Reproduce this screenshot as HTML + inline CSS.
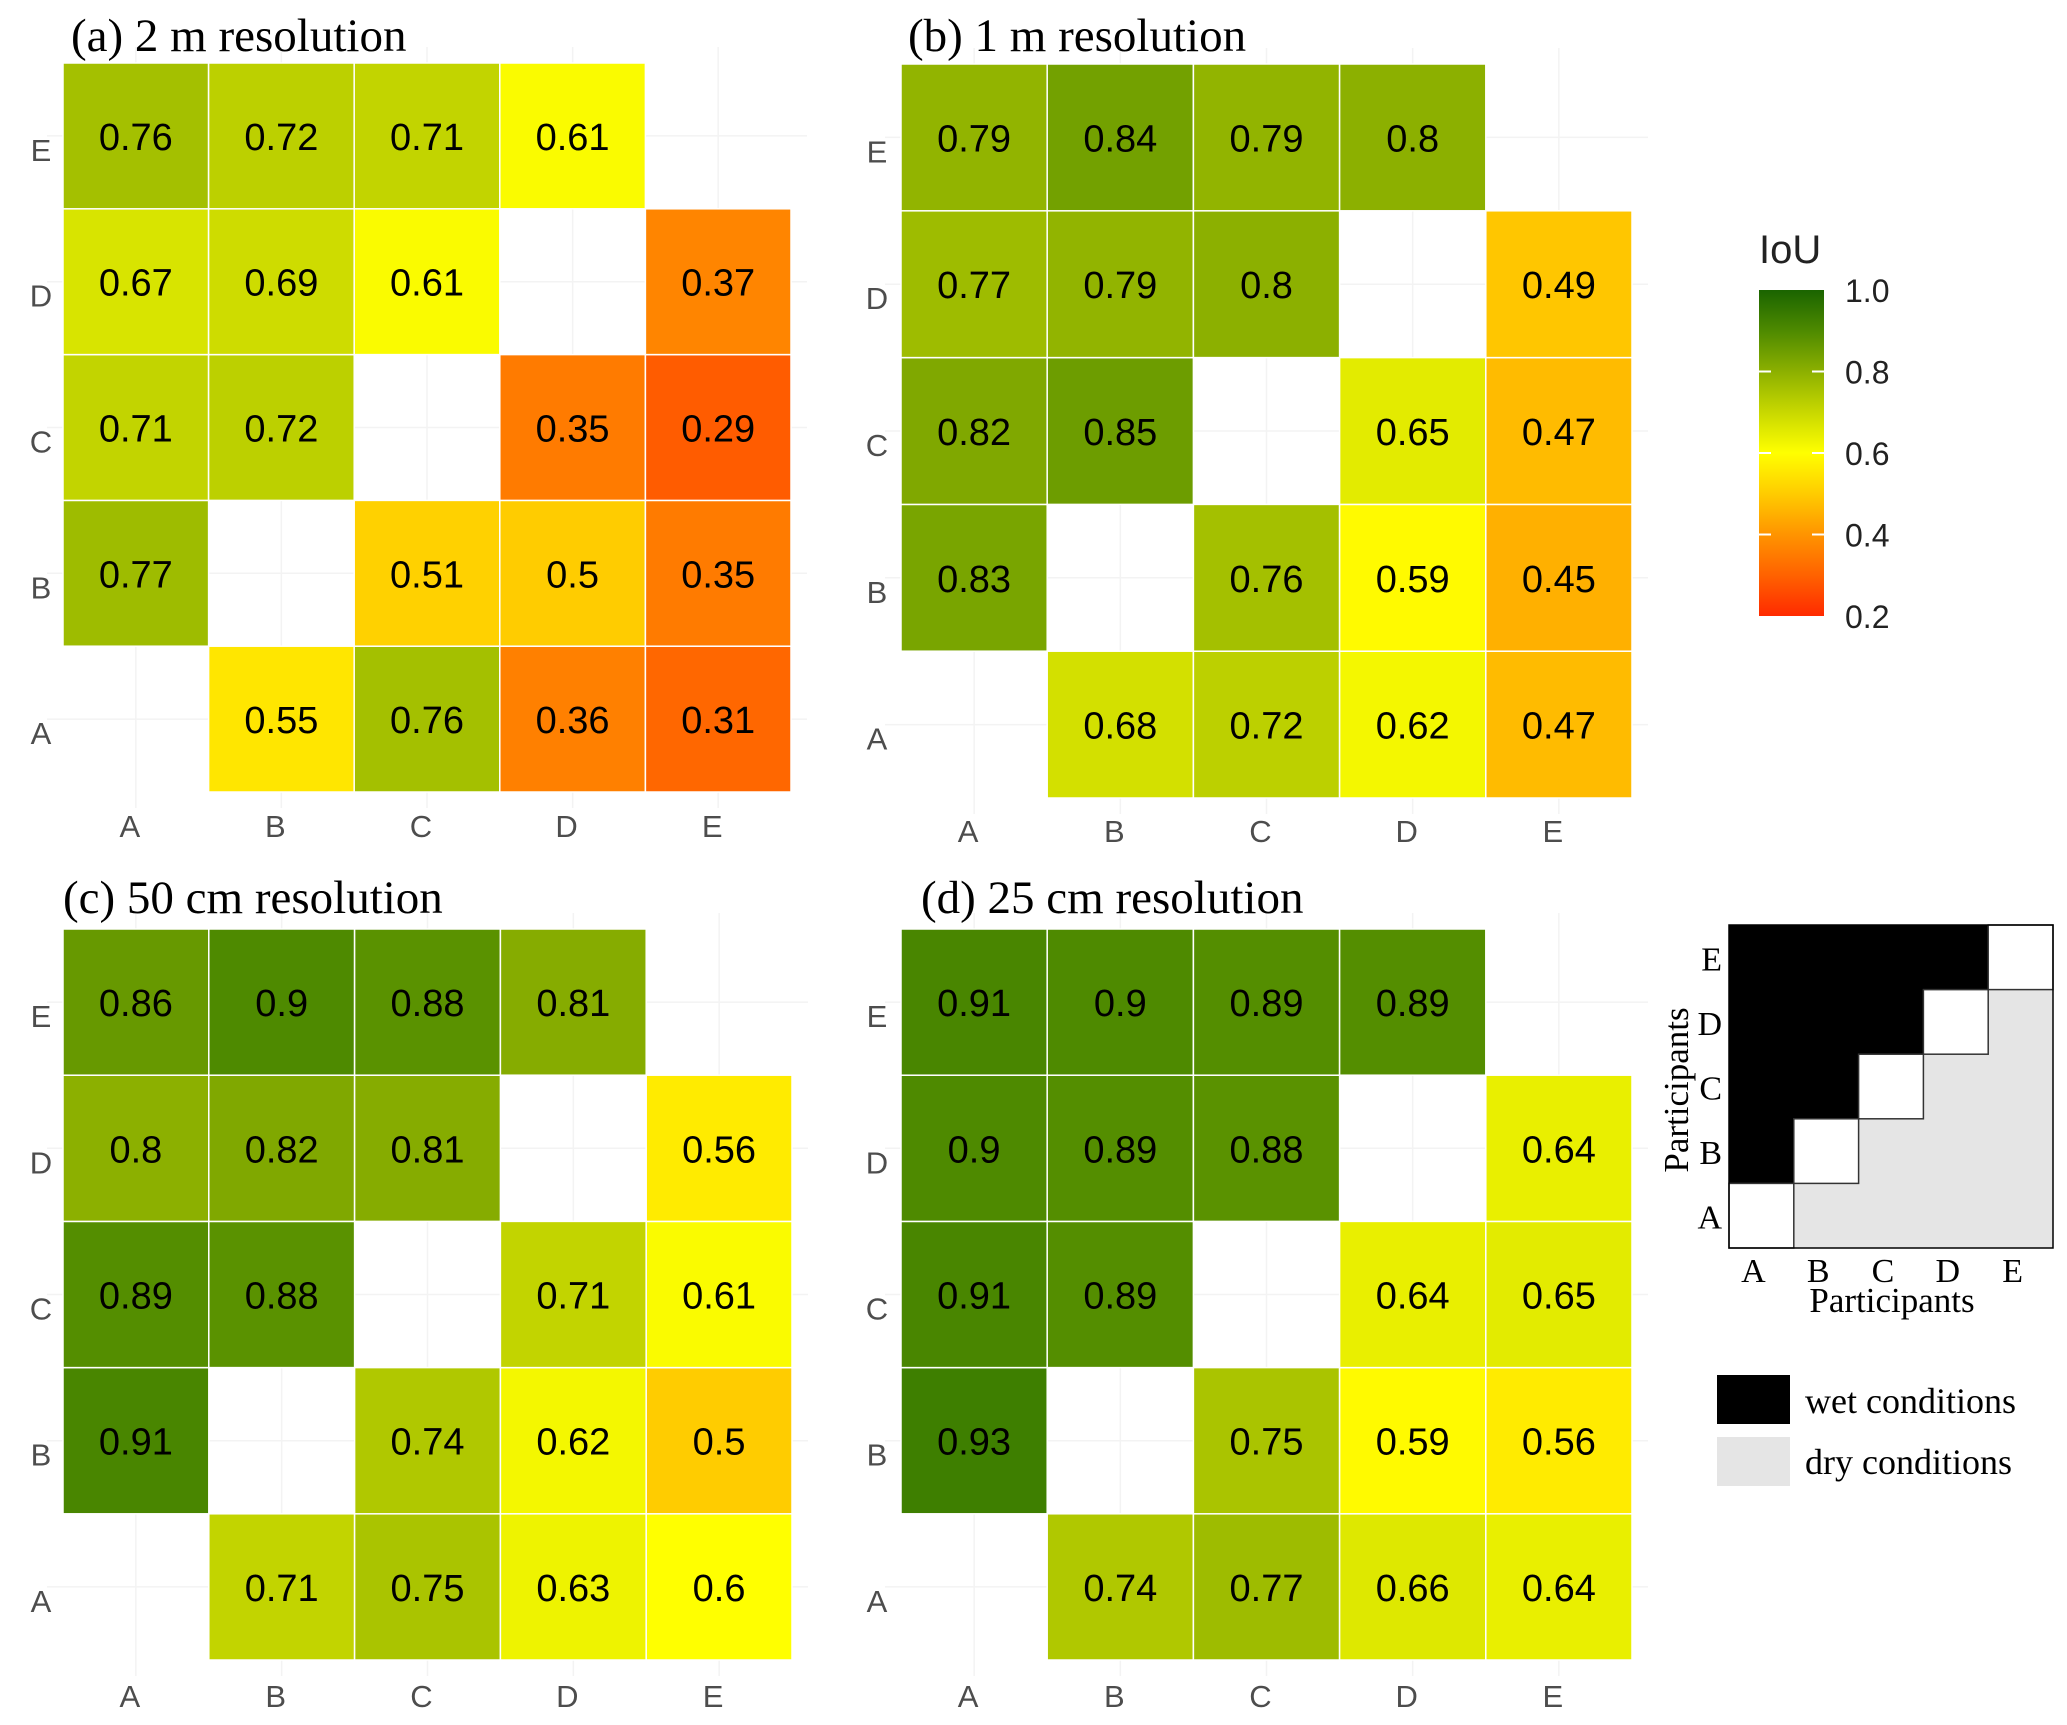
<!DOCTYPE html>
<html><head><meta charset="utf-8">
<style>
html,body{margin:0;padding:0;background:#fff;}
svg{display:block;}
</style></head>
<body>
<svg id="fig" width="2067" height="1725" viewBox="0 0 2067 1725" xmlns="http://www.w3.org/2000/svg">
<defs>
<linearGradient id="cbar" x1="0" y1="1" x2="0" y2="0">
<stop offset="0" stop-color="#ff2a00"/><stop offset="0.125" stop-color="#ff6200"/><stop offset="0.25" stop-color="#ff9400"/><stop offset="0.375" stop-color="#ffcc00"/><stop offset="0.5" stop-color="#ffff00"/><stop offset="0.625" stop-color="#c8d800"/><stop offset="0.75" stop-color="#8cb000"/><stop offset="0.875" stop-color="#4e8a00"/><stop offset="1" stop-color="#1a6400"/>
</linearGradient>
</defs>
<g id="panels"></g>
<g>
<text x="1759" y="263" font-family="Liberation Sans, sans-serif" font-size="40" fill="#222">IoU</text>
<rect x="1759" y="290" width="65" height="326" fill="url(#cbar)"/>
<g id="cbticks"></g>
</g>
<g id="inset"></g>
<g font-family="Liberation Serif, serif" font-size="36" fill="#000">
<rect x="1717" y="1375" width="73" height="49" fill="#000"/>
<text x="1805" y="1413">wet conditions</text>
<rect x="1717" y="1437" width="73" height="49" fill="#e5e5e5"/>
<text x="1805" y="1474">dry conditions</text>
</g>
</svg>
<script>
// Data: rows = y participant (A..E), columns = x participant (A..E)
const participants = ["A","B","C","D","E"];
const panelTitles = ["(a) 2 m resolution","(b) 1 m resolution","(c) 50 cm resolution","(d) 25 cm resolution"];
const iou2m = [
  [null,0.55,0.76,0.36,0.31],
  [0.77,null,0.51,0.5,0.35],
  [0.71,0.72,null,0.35,0.29],
  [0.67,0.69,0.61,null,0.37],
  [0.76,0.72,0.71,0.61,null]
];
const iou1m = [
  [null,0.68,0.72,0.62,0.47],
  [0.83,null,0.76,0.59,0.45],
  [0.82,0.85,null,0.65,0.47],
  [0.77,0.79,0.8,null,0.49],
  [0.79,0.84,0.79,0.8,null]
];
const iou50cm = [
  [null,0.71,0.75,0.63,0.6],
  [0.91,null,0.74,0.62,0.5],
  [0.89,0.88,null,0.71,0.61],
  [0.8,0.82,0.81,null,0.56],
  [0.86,0.9,0.88,0.81,null]
];
const iou25cm = [
  [null,0.74,0.77,0.66,0.64],
  [0.93,null,0.75,0.59,0.56],
  [0.91,0.89,null,0.64,0.65],
  [0.9,0.89,0.88,null,0.64],
  [0.91,0.9,0.89,0.89,null]
];
const colorbarTicks = [0.2,0.4,0.6,0.8,1.0];
const colorbarTickLabels = ["0.2","0.4","0.6","0.8","1.0"];

const NS="http://www.w3.org/2000/svg";
function mk(tag,attrs,parent){const e=document.createElementNS(NS,tag);for(const k in attrs)e.setAttribute(k,attrs[k]);parent.appendChild(e);return e;}

const stops=[[0.2,[255,42,0]],[0.3,[255,98,0]],[0.4,[255,148,0]],[0.5,[255,204,0]],[0.6,[255,255,0]],[0.7,[200,216,0]],[0.8,[140,176,0]],[0.9,[78,138,0]],[1.0,[26,100,0]]];
function color(v){
  v=Math.max(0.2,Math.min(1,v));
  for(let i=0;i<stops.length-1;i++){
    const a=stops[i],b=stops[i+1];
    if(v<=b[0]){const t=(v-a[0])/(b[0]-a[0]);const c=a[1].map((x,j)=>Math.round(x+(b[1][j]-x)*t));return `rgb(${c[0]},${c[1]},${c[2]})`;}
  }
  return "rgb(26,100,0)";
}

const panelData=[iou2m,iou1m,iou50cm,iou25cm];
const layout=[
  {x0:63,x1:791,y0:63,y1:792,tx:71,ty:51,lx:30,xb:837},
  {x0:901,x1:1632,y0:64,y1:798,tx:908,ty:51,lx:866,xb:842},
  {x0:63,x1:792,y0:929,y1:1660,tx:63,ty:913,lx:30,xb:1707},
  {x0:901,x1:1632,y0:929,y1:1660,tx:921,ty:913,lx:866,xb:1707}
];
const panelsG=document.getElementById("panels");
panelData.forEach((data,p)=>{
  const L=layout[p];
  const g=mk("g",{},panelsG);
  
  
  const cw=(L.x1-L.x0)/participants.length, ch=(L.y1-L.y0)/participants.length;
  const xs=i=>L.x0+i*cw;
  const ys=j=>L.y1-(j+1)*ch;
  participants.forEach((_,i)=>{
    const gl=mk("line",{x1:xs(i)+cw/2,x2:xs(i)+cw/2,y1:L.y0-16,y2:L.y1+16,stroke:"#f3f3f3","stroke-width":1.5},g);
    
    
    const gh=mk("line",{x1:L.x0-16,x2:L.x1+16,y1:ys(i)+ch/2,y2:ys(i)+ch/2,stroke:"#f3f3f3","stroke-width":1.5},g);
    
    
  });
  const t=mk("text",{x:L.tx,y:L.ty,"font-family":"Liberation Serif, serif","font-size":47,fill:"#000"},g);
  t.textContent=panelTitles[p];
  
  
  data.forEach((row,j)=>{
    row.forEach((v,i)=>{
      if(v===null)return;
      const r=mk("rect",{x:xs(i),y:ys(j),width:cw,height:ch,fill:color(v),stroke:"#ffffff","stroke-width":1.5},g);
      
      
      const tx=mk("text",{x:xs(i)+cw/2,y:ys(j)+ch/2+14,"text-anchor":"middle","font-family":"Liberation Sans, sans-serif","font-size":38,fill:"#000"},g);
      tx.textContent=String(v);
      
      
    });
  });
  participants.forEach((lab,i)=>{
    const xl=mk("text",{x:xs(i)+cw/2-6,y:L.xb,"text-anchor":"middle","font-family":"Liberation Sans, sans-serif","font-size":31,fill:"#4d4d4d"},g);
    xl.textContent=lab;
    
    
    const yl=mk("text",{x:L.lx+11,y:ys(i)+ch/2+25,"text-anchor":"middle","font-family":"Liberation Sans, sans-serif","font-size":31,fill:"#4d4d4d"},g);
    yl.textContent=lab;
    
    
  });
});

const cb=document.getElementById("cbticks");
const cbY=v=>616-(v-0.2)/0.8*326;
colorbarTicks.forEach((v,k)=>{
  if(v>0.2&&v<1.0){
    const a=mk("line",{x1:1759,x2:1771,y1:cbY(v),y2:cbY(v),stroke:"#fff","stroke-width":2},cb);
    
    
    const b=mk("line",{x1:1812,x2:1824,y1:cbY(v),y2:cbY(v),stroke:"#fff","stroke-width":2},cb);
    
    
  }
  const t=mk("text",{x:1845,y:cbY(v)+12,"font-family":"Liberation Sans, sans-serif","font-size":32,fill:"#222"},cb);
  t.textContent=colorbarTickLabels[k];
  
  
});

// inset
const ins=document.getElementById("inset");
const ix0=1729, iy0=925, iw=(2053-1729)/5, ih=(1248-925)/5;
for(let j=0;j<5;j++){for(let i=0;i<5;i++){
  const x=ix0+i*iw, y=iy0+(4-j)*ih;
  let fill = i===j?"#ffffff":(j>i?"#000000":"#e5e5e5");
  const r=mk("rect",{x:x,y:y,width:iw+0.5,height:ih+0.5,fill:fill},ins);
  
  
}}
for(let k=0;k<5;k++){
  const r=mk("rect",{x:ix0+k*iw,y:iy0+(4-k)*ih,width:iw,height:ih,fill:"none",stroke:"#333","stroke-width":1.5},ins);
  
  
}
const fr=mk("rect",{x:ix0,y:iy0,width:iw*5,height:ih*5,fill:"none",stroke:"#000","stroke-width":1.5},ins);


participants.forEach((lab,k)=>{
  const a=mk("text",{x:1722,y:iy0+(4-k)*ih+ih/2+13,"text-anchor":"end","font-family":"Liberation Serif, serif","font-size":34,fill:"#000"},ins);
  a.textContent=lab;
  
  
  const b=mk("text",{x:ix0+k*iw+iw/2-8,y:1282,"text-anchor":"middle","font-family":"Liberation Serif, serif","font-size":34,fill:"#000"},ins);
  b.textContent=lab;
  
  
});
const xt=mk("text",{x:1892,y:1312,"text-anchor":"middle","font-family":"Liberation Serif, serif","font-size":35,fill:"#000"},ins);
xt.textContent="Participants";


const yt=mk("text",{x:0,y:0,"text-anchor":"middle","font-family":"Liberation Serif, serif","font-size":35,fill:"#000",transform:"translate(1688,1090) rotate(-90)"},ins);
yt.textContent="Participants";


</script>
</body></html>
